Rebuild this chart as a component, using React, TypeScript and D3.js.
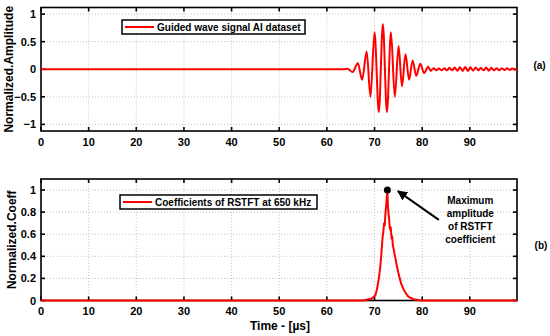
import React from "react";
import * as d3 from "d3";

// ---- Data ----
// Panel (a): guided wave signal, extrema points [time µs, normalized amplitude]
const waveTime = [0, 63.5, 64.3, 65.4, 66.5, 67.4, 68.35, 69.15, 70.0, 70.9, 71.75, 72.6, 73.45, 74.25, 75.05, 75.75, 76.5, 77.25, 78.0, 78.75, 79.6, 80.4, 81.25, 81.8, 82.4, 83.0, 83.5, 84.1, 84.6, 85.2, 85.7, 86.3, 86.8, 87.4, 87.9, 88.5, 89.0, 89.6, 90.1, 90.7, 91.2, 91.8, 92.3, 92.9, 93.4, 94.0, 94.5, 95.1, 95.6, 96.2, 96.7, 97.3, 97.8, 98.4, 98.9, 99.5, 99.9];
const waveAmp = [0, 0, 0.01, -0.05, 0.11, -0.19, 0.32, -0.5, 0.67, -0.78, 0.82, -0.78, 0.67, -0.5, 0.42, -0.31, 0.27, -0.19, 0.16, -0.12, 0.1, -0.07, 0.045, -0.03, 0.02, -0.02, 0.015, -0.02, 0.02, -0.02, 0.025, -0.02, 0.03, -0.025, 0.035, -0.03, 0.04, -0.03, 0.035, -0.025, 0.03, -0.02, 0.025, -0.02, 0.03, -0.025, 0.025, -0.02, 0.02, -0.02, 0.02, -0.015, 0.02, -0.015, 0.015, -0.01, 0];

// Panel (b): RSTFT coefficients at 650 kHz
const coefTime = [0, 67.7, 68.5, 69.3, 69.8, 70.2, 70.5, 70.9, 71.2, 71.45, 71.7, 71.85, 72.0, 72.15, 72.3, 72.45, 72.55, 72.7, 72.8, 72.95, 73.1, 73.2, 73.3, 73.4, 73.5, 73.6, 73.7, 73.85, 74.0, 74.2, 74.4, 74.6, 74.8, 75.0, 75.3, 75.6, 75.8, 76.1, 76.5, 77.0, 77.5, 78.2, 79.2, 79.5, 99.9];
const coefVal = [0, 0, 0.01, 0.015, 0.03, 0.05, 0.1, 0.2, 0.3, 0.43, 0.58, 0.62, 0.7, 0.68, 0.8, 0.86, 0.92, 1.0, 0.86, 0.78, 0.72, 0.66, 0.64, 0.66, 0.6, 0.56, 0.58, 0.5, 0.47, 0.42, 0.38, 0.33, 0.29, 0.25, 0.2, 0.15, 0.13, 0.1, 0.07, 0.04, 0.025, 0.012, 0.005, 0, 0];

const xTicks = [0, 10, 20, 30, 40, 50, 60, 70, 80, 90];
const yTicksA = [-1, -0.5, 0, 0.5, 1];
const yTickLabelsA = ["\u22121", "\u22120.5", "0", "0.5", "1"];
const yTicksB = [0, 0.2, 0.4, 0.6, 0.8, 1];
const yTickLabelsB = ["0", "0.2", "0.4", "0.6", "0.8", "1"];

const legendA = "Guided wave signal AI dataset";
const legendB = "Coefficients of RSTFT at 650 kHz";
const yLabelA = "Normalized.Amplitude";
const yLabelB = "Normalized.Coeff";
const xLabel = "Time - [\u00b5s]";
const panelA = "(a)";
const panelB = "(b)";
const annotLines = ["Maximum", "amplitude", "of RSTFT", "coefficient"];
// annotation anchors in data units [time, value]
const peakPoint = [72.7, 1.0];
const arrowTail = [83.5, 0.73];
const arrowHead = [74.9, 0.99];
const annotCenter = [90.1, 0.91];

const FONT = "'Liberation Sans', Arial, sans-serif";
const RED = "#ff0000";

function Panel({ top, bottom, yDomain, yTicks, yTickLabels, times, vals, legend, legendBox, yLabel, yLabelX, clipId, curve, children }) {
  const left = 41, right = 517;
  const x = d3.scaleLinear().domain([0, 99.9]).range([left, right]);
  const y = d3.scaleLinear().domain(yDomain).range([bottom, top]);
  const pts = times.map((t, i) => [t, vals[i]]);
  const line = d3.line().x(d => x(d[0])).y(d => y(d[1])).curve(curve);
  const tl = 4;
  return (
    <g fontFamily={FONT} fontWeight="bold">
      <defs>
        <clipPath id={clipId}>
          <rect x={left} y={top - 2} width={right - left} height={bottom - top + 4} />
        </clipPath>
      </defs>
      <rect x={left} y={top} width={right - left} height={bottom - top} fill="#fff" />
      {/* grid */}
      {xTicks.map(t => (
        <line key={"gx" + t} x1={x(t)} x2={x(t)} y1={top} y2={bottom} stroke="#c4c4c4" strokeWidth={1} strokeDasharray="1,2" />
      ))}
      {yTicks.map(t => (
        <line key={"gy" + t} x1={left} x2={right} y1={y(t)} y2={y(t)} stroke="#c4c4c4" strokeWidth={1} strokeDasharray="1,2" />
      ))}
      {/* axes box */}
      <rect x={left} y={top} width={right - left} height={bottom - top} fill="none" stroke="#000" strokeWidth={1.6} />
      {xTicks.map(t => (
        <g key={"tx" + t}>
          <line x1={x(t)} x2={x(t)} y1={bottom} y2={bottom - tl} stroke="#000" strokeWidth={1.6} />
          <line x1={x(t)} x2={x(t)} y1={top} y2={top + tl} stroke="#000" strokeWidth={1.6} />
          <text x={x(t)} y={bottom + 14.5} fontSize={11} textAnchor="middle" fill="#000">{t}</text>
        </g>
      ))}
      {yTicks.map((t, i) => (
        <g key={"ty" + t}>
          <line x1={left} x2={left + tl} y1={y(t)} y2={y(t)} stroke="#000" strokeWidth={1.6} />
          <line x1={right} x2={right - tl} y1={y(t)} y2={y(t)} stroke="#000" strokeWidth={1.6} />
          <text x={left - 5} y={y(t) + 4} fontSize={11} textAnchor="end" fill="#000">{yTickLabels[i]}</text>
        </g>
      ))}
      <text transform={`translate(${yLabelX},${(top + bottom) / 2}) rotate(-90)`} fontSize={12} textAnchor="middle" fill="#000">{yLabel}</text>
      {/* data line */}
      <path d={line(pts)} fill="none" stroke={RED} strokeWidth={2} strokeLinejoin="round" clipPath={`url(#${clipId})`} />
      {/* legend */}
      <rect x={legendBox[0]} y={legendBox[1]} width={legendBox[2]} height={legendBox[3]} fill="#fff" stroke="#000" strokeWidth={1.5} />
      <line x1={legendBox[0] + 3} x2={legendBox[0] + 32} y1={legendBox[1] + legendBox[3] / 2} y2={legendBox[1] + legendBox[3] / 2} stroke={RED} strokeWidth={2} />
      <text x={legendBox[0] + 35} y={legendBox[1] + legendBox[3] / 2 + 3.6} fontSize={10} fill="#000">{legend}</text>
      {children && children(x, y)}
    </g>
  );
}

export default function App() {
  return (
    <svg width={550} height={336} style={{ position: "absolute", left: 0, top: 0, display: "block", background: "#fff" }}>
      <rect width={550} height={336} fill="#fff" />
      <Panel top={7.5} bottom={131} yDomain={[-1.12, 1.12]} yTicks={yTicksA} yTickLabels={yTickLabelsA}
        times={waveTime} vals={waveAmp} legend={legendA} legendBox={[122, 20, 183, 14]}
        yLabel={yLabelA} yLabelX={13} clipId="clipA" curve={d3.curveMonotoneX} />
      <text x={539.5} y={68.5} fontFamily={FONT} fontWeight="bold" fontSize={10} textAnchor="middle">{panelA}</text>
      <Panel top={179} bottom={300.5} yDomain={[0, 1.1]} yTicks={yTicksB} yTickLabels={yTickLabelsB}
        times={coefTime} vals={coefVal} legend={legendB} legendBox={[120, 195, 197, 14]}
        yLabel={yLabelB} yLabelX={16} clipId="clipB" curve={d3.curveLinear}>
        {(x, y) => (
          <g>
            <defs>
              <marker id="arrowhead" viewBox="0 0 10 10" refX={9} refY={5} markerWidth={5} markerHeight={5} orient="auto" markerUnits="strokeWidth">
                <path d="M0,0 L10,5 L0,10 z" fill="#000" />
              </marker>
            </defs>
            <circle cx={x(peakPoint[0])} cy={y(peakPoint[1])} r={3.5} fill="#000" />
            <line x1={x(arrowTail[0])} y1={y(arrowTail[1])} x2={x(arrowHead[0])} y2={y(arrowHead[1])} stroke="#000" strokeWidth={2} markerEnd="url(#arrowhead)" />
            {annotLines.map((s, i) => (
              <text key={s} x={x(annotCenter[0])} y={y(annotCenter[1]) + i * 13 + 3.6} fontSize={10} textAnchor="middle" fill="#000">{s}</text>
            ))}
          </g>
        )}
      </Panel>
      <text x={541} y={248.5} fontFamily={FONT} fontWeight="bold" fontSize={10} textAnchor="middle">{panelB}</text>
      <text x={280} y={330} fontFamily={FONT} fontWeight="bold" fontSize={12} textAnchor="middle">{xLabel}</text>
    </svg>
  );
}
